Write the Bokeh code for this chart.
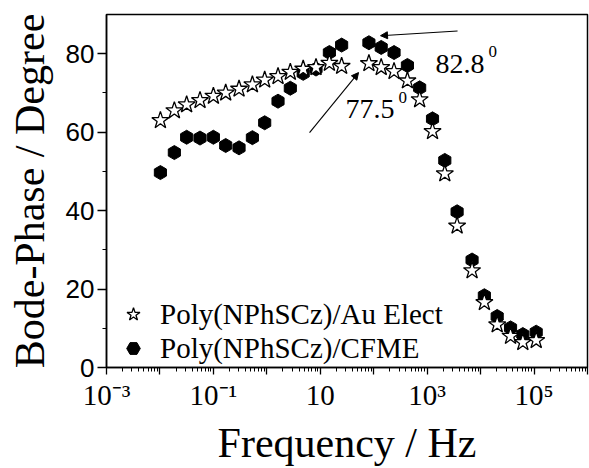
from bokeh.plotting import figure
from bokeh.models import (FixedTicker, Legend, LegendItem, Arrow, NormalHead,
                          ColumnDataSource, Range1d)
from bokeh.core.properties import value
from bokeh.embed import file_html
from bokeh.resources import INLINE

# ---- data ----
freq_hz = [0.0102, 0.0186, 0.0316, 0.0562, 0.1, 0.17, 0.302, 0.537, 0.912,
           1.62, 2.75, 4.79, 8.32, 14.8, 25.1, 81.3, 138, 240, 427, 724,
           1259, 2138, 3631, 6918, 11749, 20417, 36308, 61660, 109648]
phase_au = [63.0, 65.5, 67.0, 68.1, 69.2, 70.0, 71.0, 72.1, 73.3, 74.2, 75.3,
            76.1, 76.5, 77.6, 76.8, 77.5, 76.5, 75.5, 73.1, 68.3, 60.2, 49.4,
            36.1, 24.7, 16.6, 10.9, 8.0, 6.4, 6.9]
phase_cfme = [49.7, 54.8, 58.7, 58.5, 58.7, 56.6, 56.0, 58.6, 62.4, 67.9, 71.2,
              75.0, 76.1, 80.3, 82.2, 82.8, 81.6, 80.3, 77.0, 71.3, 63.4, 52.8,
              39.7, 27.4, 18.3, 13.0, 10.1, 8.4, 9.0]
series_names = ["Poly(NPhSCz)/Au Elect", "Poly(NPhSCz)/CFME"]

x_major = [1e-3, 1e-2, 1e-1, 1e0, 1e1, 1e2, 1e3, 1e4, 1e5, 1e6]
x_labels = ["10\u207b\u00b3", "", "10\u207b\u00b9", "", "10", "", "10\u00b3", "",
            "10\u2075", ""]
y_major = [0, 20, 40, 60, 80]
y_minor = [10, 30, 50, 70]

peak_text = ["82.8", "77.5"]
peak_exp = ["0", "0"]
peak_text_x = [1436, 29.6]
peak_text_y = [77.4, 65.8]
arrow_x0 = [3700, 6.3]
arrow_y0 = [85.8, 59.9]
arrow_x1 = [134, 52]
arrow_y1 = [84.6, 75.2]

SERIF = "Liberation Serif"

p = figure(width=589, height=468, x_axis_type="log",
           x_range=Range1d(1e-3, 1e6), y_range=Range1d(0, 90),
           output_backend="svg", toolbar_location=None,
           min_border_left=106, min_border_right=2, min_border_top=14,
           min_border_bottom=100)
p.background_fill_color = "white"
p.border_fill_color = "white"
p.grid.visible = False
p.outline_line_color = "black"
p.outline_line_width = 1.5

x_minor = [k * 10.0 ** n for n in range(-3, 6) for k in range(2, 10)]
p.xaxis.ticker = FixedTicker(ticks=x_major, minor_ticks=x_minor)
p.xaxis.major_label_overrides = dict(zip(x_major, x_labels))
p.yaxis.ticker = FixedTicker(ticks=y_major, minor_ticks=y_minor)

for ax in (p.xaxis[0], p.yaxis[0]):
    ax.axis_line_color = "black"
    ax.axis_line_width = 1.5
    ax.major_tick_line_color = "black"
    ax.minor_tick_line_color = "black"
    ax.major_tick_line_width = 1.3
    ax.minor_tick_line_width = 1
    ax.major_tick_out = 7
    ax.major_tick_in = 0
    ax.minor_tick_out = 4
    ax.minor_tick_in = 0
    ax.major_label_text_color = "black"
    ax.axis_label_text_color = "black"
    ax.axis_label_text_font = SERIF
    ax.axis_label_text_font_style = "normal"
    ax.axis_label_text_font_size = "42px"

p.xaxis.major_label_text_font = SERIF
p.xaxis.major_label_text_font_size = "29px"
p.xaxis.major_label_standoff = 4
p.xaxis.axis_label = "Frequency / Hz"
p.xaxis.axis_label_standoff = 6

p.yaxis.major_tick_out = 9
p.yaxis.major_label_text_font = "Liberation Sans"
p.yaxis.major_label_text_font_size = "26px"
p.yaxis.major_label_standoff = 3
p.yaxis.axis_label = "Bode-Phase / Degree"
p.yaxis.axis_label_standoff = 10

src = ColumnDataSource(dict(f=freq_hz, au=phase_au, cf=phase_cfme))
r_cf = p.scatter("f", "cf", source=src, marker="hex", size=14, angle=0.5236,
                 fill_color="black", line_color="black")
r_au = p.scatter("f", "au", source=src, marker="star", size=18,
                 fill_color="white", line_color="black", line_width=1.3)

legend = Legend(items=[LegendItem(label=series_names[0], renderers=[r_au]),
                       LegendItem(label=series_names[1], renderers=[r_cf])],
                location=(9, 2), orientation="vertical",
                background_fill_alpha=0, border_line_alpha=0,
                padding=0, margin=0, spacing=0, label_standoff=9,
                glyph_width=36, glyph_height=34,
                label_text_font=SERIF, label_text_font_size="29px",
                label_text_color="black", label_height=34)
p.add_layout(legend, "center")

for i in range(len(arrow_x0)):
    p.add_layout(Arrow(x_start=arrow_x0[i], y_start=arrow_y0[i],
                       x_end=arrow_x1[i], y_end=arrow_y1[i],
                       line_color="black", line_width=1.1,
                       end=NormalHead(size=7, fill_color="black",
                                      line_color="black")))

p.text(x=peak_text_x, y=peak_text_y, text=peak_text,
       text_font=value(SERIF), text_font_size="28px", text_color="black",
       text_align="left", text_baseline="alphabetic")
p.text(x=peak_text_x, y=peak_text_y, text=peak_exp,
       text_font=value(SERIF), text_font_size="17px", text_color="black",
       text_align="left", text_baseline="alphabetic",
       x_offset=53, y_offset=-12)

open("out.html", "w").write(file_html(p, INLINE))
